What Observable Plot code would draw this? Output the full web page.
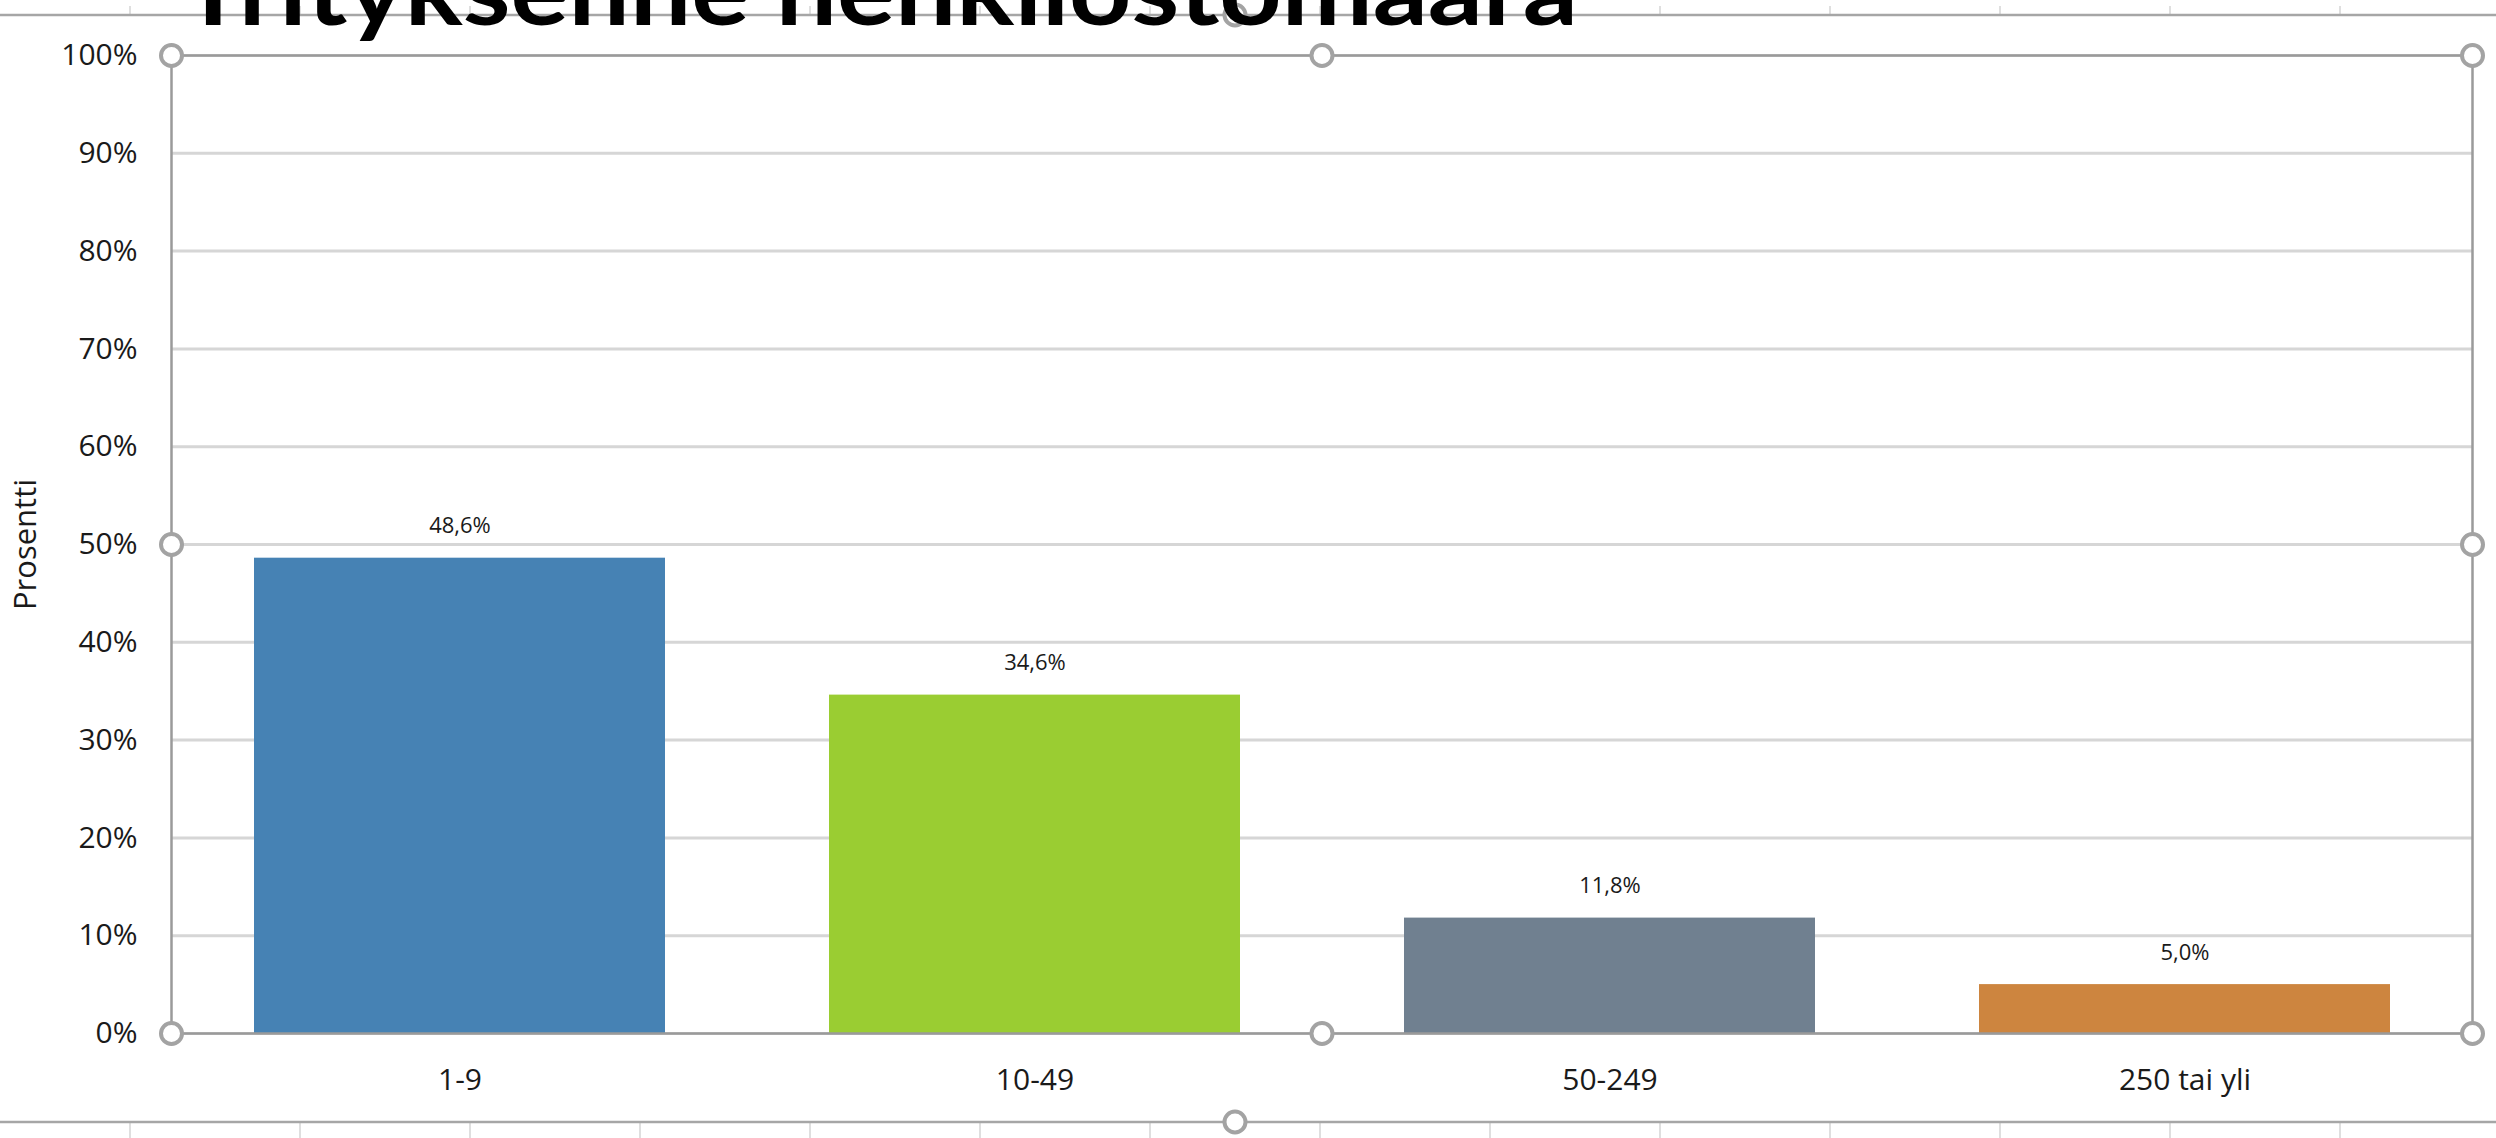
<!DOCTYPE html>
<html>
<head>
<meta charset="utf-8">
<script src="https://cdn.jsdelivr.net/npm/d3@7"></script>
<script src="https://cdn.jsdelivr.net/npm/@observablehq/plot@0.6"></script>
<style>
  html, body { margin: 0; padding: 0; background: #fff; overflow: hidden; }
  #chart { position: relative; width: 2496px; height: 1138px; }
</style>
</head>
<body>
<div id="chart"></div>
<script>
// ---- data ----
const title = "Yrityksenne henkilöstömäärä";
const yLabel = "Prosentti";
const categories = ["1-9", "10-49", "50-249", "250 tai yli"];
const values = [48.6, 34.6, 11.8, 5.0];
const barColors = ["#4682b4", "#9acd32", "#708090", "#cd853f"];
const yTicks = [0, 10, 20, 30, 40, 50, 60, 70, 80, 90, 100];

const data = categories.map((c, i) => ({cat: c, value: values[i], color: barColors[i]}));
const fmt = v => v.toFixed(1).replace(".", ",") + "%";

const handleAnchors = ["top-left", "top", "top-right", "left", "right", "bottom-left", "bottom", "bottom-right"];
const handleStyle = {r: 10.5, fill: "white", stroke: "#a3a3a3", strokeWidth: 4};

const W = 2496, H = 1138;
const plot = Plot.plot({
  width: W,
  height: H,
  marginLeft: 171,
  marginRight: 24,
  marginTop: 55,
  marginBottom: 105,
  style: {fontFamily: "'Open Sans', sans-serif", fontSize: "30px", color: "#1a1a1a", background: "transparent", overflow: "visible"},
  x: {domain: categories, paddingInner: 0.2857, paddingOuter: 0.1429, label: null},
  y: {domain: [0, 100], label: null},
  color: {type: "identity"},
  marks: [
    Plot.gridY(yTicks, {stroke: "#d6d6d6", strokeOpacity: 1, strokeWidth: 3}),
    Plot.barY(data, {x: "cat", y: "value", fill: "color"}),
    Plot.frame({stroke: "#9a9a9a", strokeWidth: 2.5}),
    Plot.axisY({ticks: yTicks, tickFormat: d => d + "%", tickSize: 0, tickPadding: 34, fontSize: 30, label: null}),
    Plot.axisX({tickSize: 0, tickPadding: 35, fontSize: 30, label: null}),
    Plot.text([yLabel], {frameAnchor: "left", textAnchor: "middle", rotate: -90, dx: -145, fontSize: 31, fill: "#1a1a1a", text: d => d}),
    Plot.text(data, {x: "cat", y: "value", text: d => fmt(d.value), dy: -32, fontSize: 22, fill: "#1a1a1a"}),
    ...handleAnchors.map(a => Plot.dot([0], {frameAnchor: a, ...handleStyle}))
  ]
});

document.getElementById("chart").appendChild(plot);

// ---- chart-object decorations (selection frame, sheet column lines, title) ----
const svg = d3.select(plot);
const deco = svg.append("g");
const colLines = d3.range(130, W, 170);
deco.selectAll("line.colTop").data(colLines).join("line")
  .attr("x1", d => d).attr("x2", d => d).attr("y1", 6).attr("y2", 15)
  .attr("stroke", "#d4d4d4").attr("stroke-width", 1.5);
deco.selectAll("line.colBot").data(colLines).join("line")
  .attr("x1", d => d).attr("x2", d => d).attr("y1", 1122).attr("y2", H)
  .attr("stroke", "#d4d4d4").attr("stroke-width", 1.5);
[15, 1122].forEach(y => {
  deco.append("line").attr("x1", 0).attr("x2", W).attr("y1", y).attr("y2", y)
    .attr("stroke", "#a6a6a6").attr("stroke-width", 2.5);
});
[[1235, 15], [1235, 1122]].forEach(([cx, cy]) => {
  deco.append("circle").attr("cx", cx).attr("cy", cy).attr("r", 10.5)
    .attr("fill", "white").attr("stroke", "#a3a3a3").attr("stroke-width", 4);
});
deco.append("text")
  .attr("x", 178).attr("y", 25)
  .attr("text-anchor", "start")
  .attr("font-family", "Lato, 'Open Sans', sans-serif")
  .attr("font-weight", 700)
  .attr("font-size", 96)
  .attr("fill", "#000")
  .attr("textLength", 1400)
  .attr("lengthAdjust", "spacingAndGlyphs")
  .text(title);
</script>
</body>
</html>
